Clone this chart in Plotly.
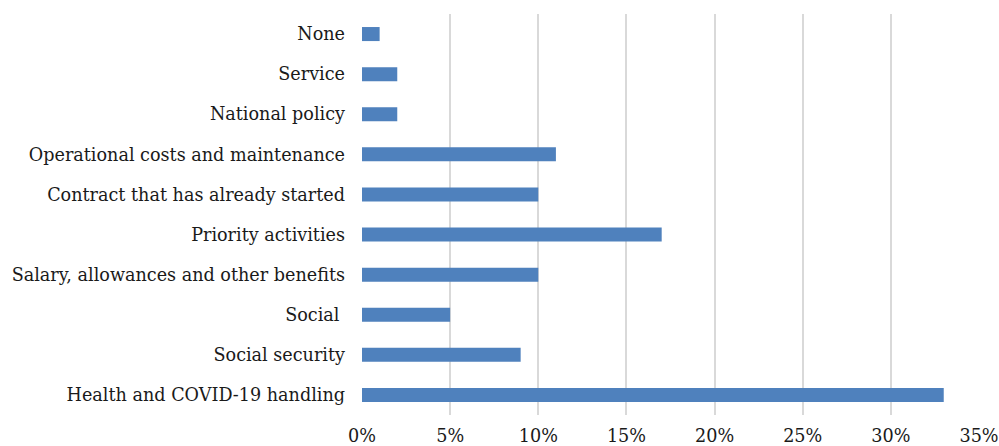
import plotly.graph_objects as go

# Budget refocusing categories, listed bottom to top
categories = [
    "Health and COVID-19 handling",
    "Social security",
    "Social\u00a0",
    "Salary, allowances and other benefits",
    "Priority activities",
    "Contract that has already started",
    "Operational costs and maintenance",
    "National policy",
    "Service",
    "None",
]
shares = [33, 9, 5, 10, 17, 10, 11, 2, 2, 1]  # percent

tick_values = [0, 5, 10, 15, 20, 25, 30, 35]
tick_labels = ["0%", "5%", "10%", "15%", "20%", "25%", "30%", "35%"]

font_family = "DejaVu Serif, Liberation Serif, serif"

fig = go.Figure(
    go.Bar(
        x=shares,
        y=categories,
        orientation="h",
        marker=dict(color="#4F81BD", line=dict(width=0)),
        width=0.35,
        hoverinfo="x+y",
    )
)

fig.update_layout(
    width=999,
    height=446,
    margin=dict(l=362, r=20, t=14, b=31, autoexpand=False),
    paper_bgcolor="white",
    plot_bgcolor="white",
    showlegend=False,
    font=dict(family=font_family, size=17.6, color="#1a1a1a"),
    xaxis=dict(
        range=[0, 35],
        tickvals=tick_values,
        ticktext=tick_labels,
        showgrid=True,
        gridcolor="#D9D9D9",
        gridwidth=1.5,
        zeroline=False,
        showline=False,
        ticks="",
        automargin=False,
        ticklabelstandoff=8,
        tickfont=dict(size=17.6),
    ),
    yaxis=dict(
        categoryorder="array",
        categoryarray=categories,
        showgrid=False,
        zeroline=False,
        showline=False,
        ticks="",
        automargin=False,
        ticklabelstandoff=16,
        tickfont=dict(size=17.6),
    ),
)

fig.write_html("out.html")
